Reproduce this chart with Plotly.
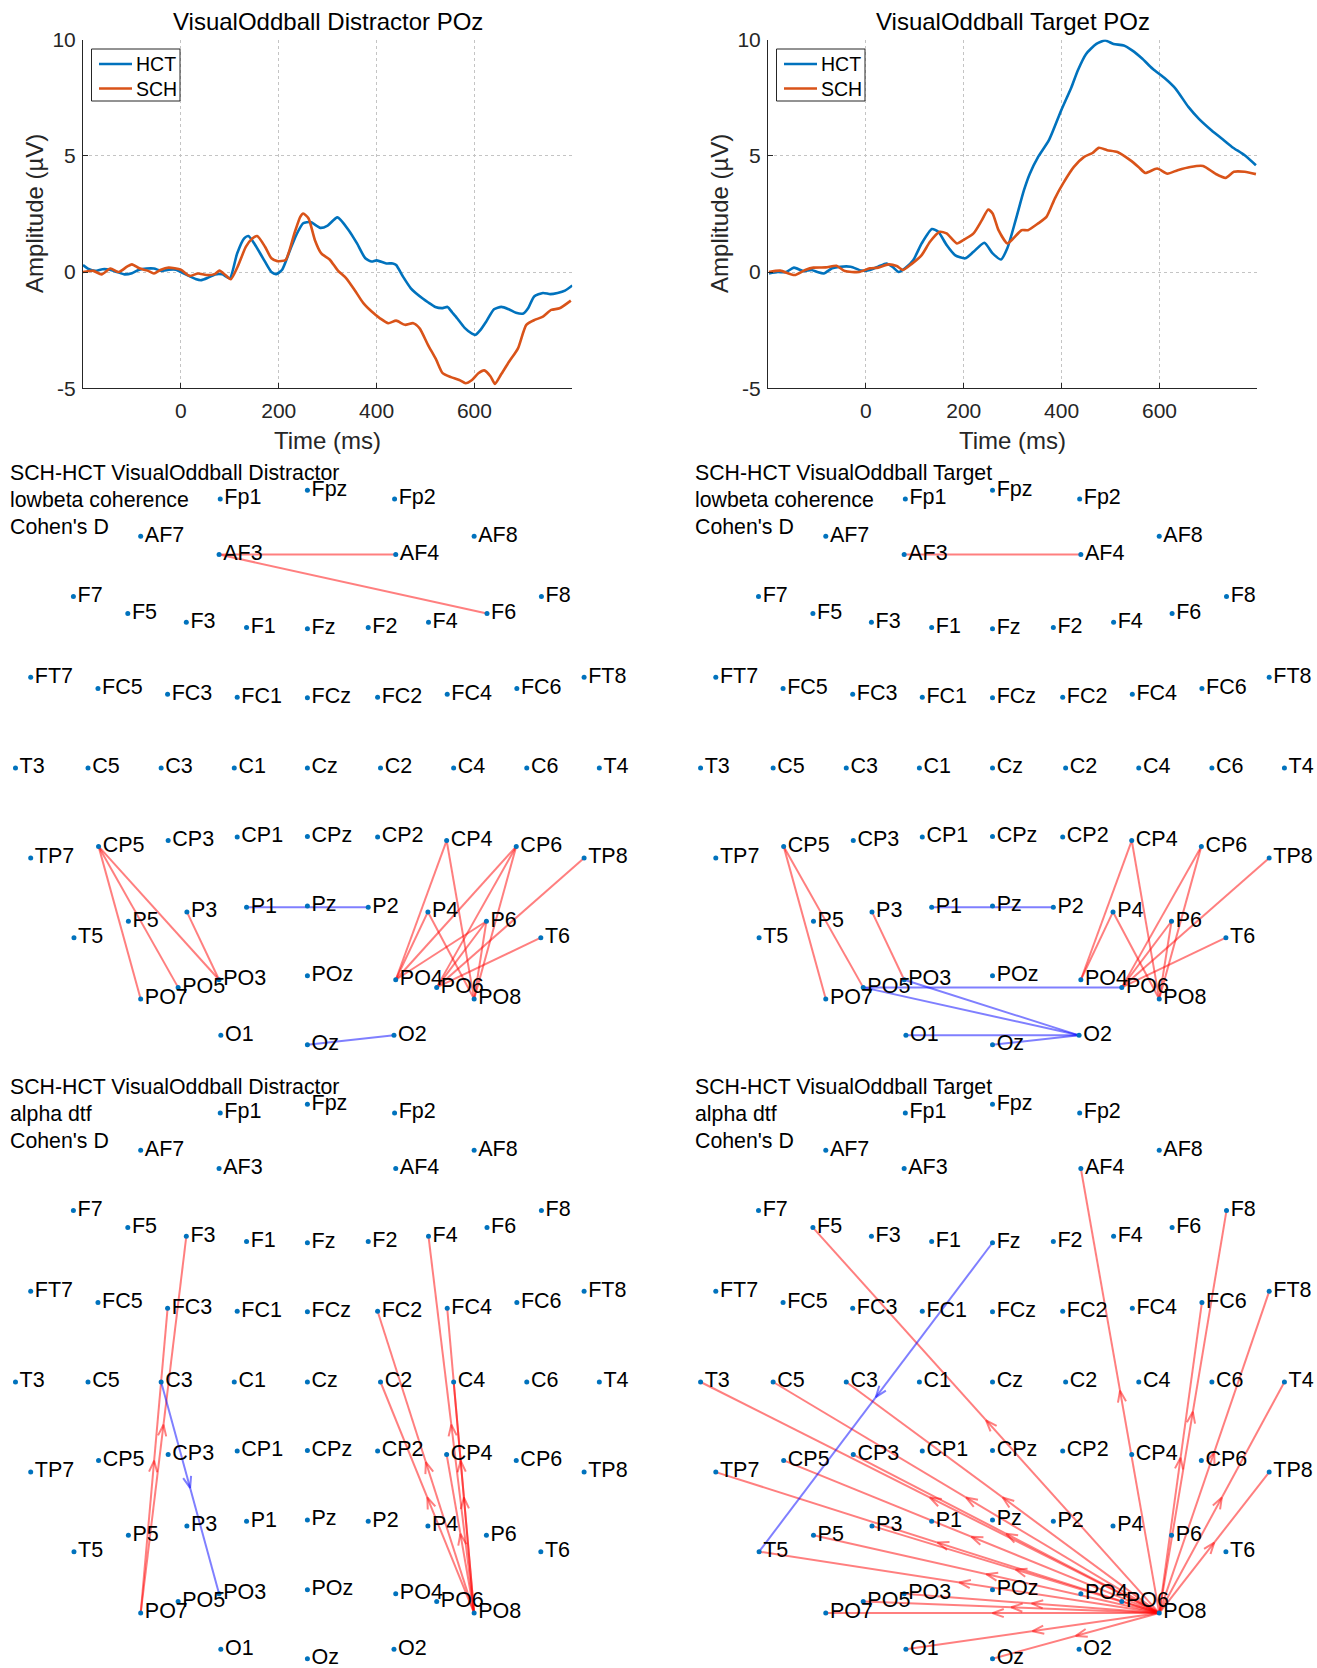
import math
import plotly.graph_objects as go

W, H = 1317, 1668
FONT = "Liberation Sans, Arial, Helvetica, sans-serif"
BLUE = "#0072BD"
ORANGE = "#D95319"
RED_LINE = "rgba(255,0,0,0.5)"
BLUE_LINE = "rgba(0,0,255,0.5)"

# ---------------- ERP data (Time in ms, amplitude in uV) ----------------
t_hct_dis = [-200, -190, -175, -160, -145, -130, -115, -100, -85, -70, -55, -40, -25, -10, 0, 15, 30, 42, 55,
             70, 85, 100, 115, 129, 138, 150, 168, 185, 195, 207, 223, 236, 250, 265, 285, 300, 320, 343, 360,
             377, 390, 400, 420, 433, 440, 454, 470, 480, 495, 505, 520, 535, 545, 555, 565, 580, 595, 602, 612,
             625, 640, 655, 670, 685, 700, 710, 722, 740, 755, 770, 785, 800]
v_hct_dis = [0.3, 0.15, 0.05, 0.12, 0.1, 0.0, -0.1, -0.05, 0.1, 0.15, 0.15, 0.05, 0.1, 0.1, 0.0, -0.15, -0.3,
             -0.35, -0.25, -0.1, -0.1, -0.27, 0.8, 1.44, 1.55, 1.23, 0.59, 0.0, -0.09, 0.1, 0.94, 1.6, 2.1, 2.15,
             1.9, 2.0, 2.35, 1.8, 1.23, 0.59, 0.45, 0.5, 0.37, 0.37, 0.3, -0.2, -0.7, -0.9, -1.15, -1.3, -1.5, -1.55,
             -1.5, -1.75, -2.0, -2.4, -2.65, -2.7, -2.5, -2.1, -1.6, -1.5, -1.6, -1.75, -1.78, -1.55, -1.05, -0.9,
             -0.95, -0.9, -0.8, -0.58]

t_sch_dis = [-200, -179, -162, -144, -127, -110, -100, -85, -68, -55, -42, -25, 0, 18, 35, 52, 69, 79, 91, 102,
             116, 133, 146, 156, 172, 185, 197, 214, 232, 244, 250, 261, 274, 287, 304, 321, 338, 355, 373, 390,
             407, 424, 440, 458, 475, 488, 505, 522, 535, 552, 569, 582, 595, 608, 620, 633, 642, 654, 671, 689,
             706, 723, 740, 757, 774, 797]
v_sch_dis = [0.0, 0.05, -0.1, 0.15, 0.0, 0.23, 0.33, 0.16, 0.06, -0.06, 0.09, 0.19, 0.1, -0.17, -0.06, -0.13,
             -0.09, 0.06, -0.13, -0.31, 0.23, 1.09, 1.44, 1.55, 1.09, 0.59, 0.47, 0.52, 1.66, 2.37, 2.52, 2.3, 1.37,
             0.8, 0.54, 0.06, -0.27, -0.77, -1.34, -1.7, -1.99, -2.2, -2.09, -2.27, -2.2, -2.42, -3.13, -3.78,
             -4.35, -4.52, -4.64, -4.78, -4.64, -4.35, -4.23, -4.49, -4.81, -4.42, -3.85, -3.28, -2.27, -2.06,
             -1.92, -1.63, -1.56, -1.23]

t_hct_tar = [-198, -180, -163, -147, -128, -111, -99, -86, -69, -52, -31, -9, 8, 25, 42, 54, 67, 80, 97, 114,
             135, 148, 165, 182, 203, 220, 242, 259, 276, 289, 306, 323, 335, 352, 374, 399, 420, 433, 450, 471,
             489, 506, 527, 544, 565, 586, 612, 633, 659, 680, 706, 727, 748, 774, 797]
v_hct_tar = [-0.06, 0.0, 0.0, 0.19, 0.04, 0.09, 0.0, -0.06, 0.16, 0.23, 0.23, 0.06, 0.09, 0.23, 0.37, 0.23, 0.0,
             0.16, 0.52, 1.23, 1.85, 1.73, 1.16, 0.73, 0.59, 0.87, 1.26, 0.8, 0.54, 1.02, 2.23, 3.52, 4.23, 4.95,
             5.67, 6.95, 7.95, 8.67, 9.38, 9.81, 9.96, 9.81, 9.74, 9.53, 9.17, 8.74, 8.31, 7.88, 7.1, 6.6, 6.1,
             5.74, 5.38, 5.02, 4.59]

t_sch_tar = [-198, -175, -146, -124, -107, -82, -60, -43, -14, 8, 25, 46, 63, 76, 93, 114, 131, 151, 165, 186,
             199, 220, 237, 250, 259, 271, 289, 301, 318, 331, 352, 369, 386, 403, 425, 446, 463, 476, 493, 514,
             540, 557, 571, 595, 616, 637, 663, 689, 714, 735, 752, 774, 797]
v_sch_tar = [0.0, 0.06, -0.13, 0.09, 0.19, 0.2, 0.27, 0.04, 0.0, 0.16, 0.19, 0.33, 0.26, 0.09, 0.34, 0.73, 1.3,
             1.73, 1.66, 1.23, 1.37, 1.66, 2.23, 2.69, 2.52, 1.8, 1.23, 1.44, 1.8, 1.8, 2.09, 2.37, 3.16, 3.81,
             4.52, 4.95, 5.12, 5.34, 5.24, 5.16, 4.81, 4.52, 4.26, 4.45, 4.23, 4.38, 4.52, 4.56, 4.23, 4.05,
             4.31, 4.31, 4.21]

x_ticks = [0, 200, 400, 600]
x_tick_text = ["0", "200", "400", "600"]
y_ticks = [-5, 0, 5, 10]
y_tick_text = ["-5", "0", "5", "10"]
group_names = ["HCT", "SCH"]

# ---------------- Electrode montage (2-D projection, head-radius units) ----------------
ELEC_NAMES = ["Fp1", "Fpz", "Fp2", "AF7", "AF3", "AF4", "AF8",
              "F7", "F5", "F3", "F1", "Fz", "F2", "F4", "F6", "F8",
              "FT7", "FC5", "FC3", "FC1", "FCz", "FC2", "FC4", "FC6", "FT8",
              "T3", "C5", "C3", "C1", "Cz", "C2", "C4", "C6", "T4",
              "TP7", "CP5", "CP3", "CP1", "CPz", "CP2", "CP4", "CP6", "TP8",
              "T5", "P5", "P3", "P1", "Pz", "P2", "P4", "P6", "T6",
              "PO7", "PO5", "PO3", "POz", "PO4", "PO6", "PO8",
              "O1", "Oz", "O2"]
ELEC_X = [-0.149, 0.0, 0.149, -0.285, -0.151, 0.151, 0.285,
          -0.400, -0.307, -0.207, -0.104, 0.0, 0.104, 0.207, 0.307, 0.400,
          -0.473, -0.358, -0.239, -0.120, 0.0, 0.120, 0.239, 0.358, 0.473,
          -0.499, -0.375, -0.250, -0.125, 0.0, 0.125, 0.250, 0.375, 0.499,
          -0.473, -0.357, -0.238, -0.120, 0.0, 0.120, 0.238, 0.357, 0.473,
          -0.399, -0.306, -0.206, -0.104, 0.0, 0.104, 0.206, 0.306, 0.399,
          -0.285, -0.221, -0.151, 0.0, 0.151, 0.221, 0.285,
          -0.148, 0.0, 0.148]
ELEC_Y = [0.460, 0.475, 0.460, 0.396, 0.365, 0.365, 0.396,
          0.293, 0.264, 0.249, 0.240, 0.238, 0.240, 0.249, 0.264, 0.293,
          0.155, 0.136, 0.126, 0.121, 0.120, 0.121, 0.126, 0.136, 0.155,
          0.0, 0.0, 0.0, 0.0, 0.0, 0.0, 0.0, 0.0, 0.0,
          -0.154, -0.134, -0.124, -0.118, -0.117, -0.118, -0.124, -0.134, -0.154,
          -0.290, -0.262, -0.246, -0.238, -0.236, -0.238, -0.246, -0.262, -0.290,
          -0.395, -0.375, -0.362, -0.355, -0.362, -0.375, -0.395,
          -0.457, -0.473, -0.457]

# ---------------- Significant connections ----------------
dis_coh_pos = [("AF3", "AF4"), ("AF3", "F6"), ("CP5", "PO7"), ("CP5", "PO5"), ("CP5", "PO3"), ("P3", "PO3"),
               ("CP4", "PO4"), ("CP4", "PO8"), ("CP6", "PO4"), ("CP6", "PO6"), ("CP6", "PO8"), ("TP8", "PO6"),
               ("P4", "PO4"), ("P4", "PO8"), ("P6", "PO4"), ("P6", "PO6"), ("P6", "PO8"), ("T6", "PO6")]
dis_coh_neg = [("P1", "P2"), ("Oz", "O2")]

tar_coh_pos = [("AF3", "AF4"), ("CP5", "PO7"), ("CP5", "PO5"), ("P3", "PO3"),
               ("CP4", "PO4"), ("CP4", "PO8"), ("CP6", "PO6"), ("CP6", "PO8"), ("TP8", "PO6"),
               ("P4", "PO4"), ("P4", "PO8"), ("P6", "PO6"), ("P6", "PO8"), ("T6", "PO6")]
tar_coh_neg = [("P1", "P2"), ("PO5", "PO6"), ("PO5", "O2"), ("PO3", "O2"), ("O1", "O2"), ("Oz", "O2")]

dis_dtf_pos = [("PO7", "F3"), ("PO7", "FC3"), ("PO8", "F4"), ("PO8", "FC2"), ("PO8", "FC4"),
               ("PO8", "C2"), ("PO8", "C4"), ("PO8", "CP4")]
dis_dtf_neg = [("C3", "PO3")]

tar_dtf_pos = [("PO8", t) for t in ["AF4", "F5", "F8", "FC6", "FT8", "T4", "TP8", "T3", "C5", "C3", "CP5",
                                     "CP3", "TP7", "P3", "P5", "T5", "PO7", "PO5", "PO3", "O1", "Oz"]]
tar_dtf_neg = [("Fz", "T5")]

panels = [
    dict(lines=["SCH-HCT VisualOddball Distractor", "lowbeta coherence", "Cohen's D"],
         pos=dis_coh_pos, neg=dis_coh_neg, directed=False, cx=307.4, cy=768.0),
    dict(lines=["SCH-HCT VisualOddball Target", "lowbeta coherence", "Cohen's D"],
         pos=tar_coh_pos, neg=tar_coh_neg, directed=False, cx=992.5, cy=768.0),
    dict(lines=["SCH-HCT VisualOddball Distractor", "alpha dtf", "Cohen's D"],
         pos=dis_dtf_pos, neg=dis_dtf_neg, directed=True, cx=307.4, cy=1382.0),
    dict(lines=["SCH-HCT VisualOddball Target", "alpha dtf", "Cohen's D"],
         pos=tar_dtf_pos, neg=tar_dtf_neg, directed=True, cx=992.5, cy=1382.0),
]


def fx(px):
    return min(1.0, max(0.0, px / W))


def fy(py):
    return min(1.0, max(0.0, 1 - py / H))


S = 585.0  # pixels per head-radius unit
HALF_W, HALF_H = 295.0, 280.0
ARROW_LEN = 12.0 / S
ARROW_ANG = math.radians(20)

fig = go.Figure()
pos_e = {n: (x, y) for n, x, y in zip(ELEC_NAMES, ELEC_X, ELEC_Y)}

# ---------------- Top ERP plots ----------------
erp = [
    dict(title="VisualOddball Distractor POz", series=[(t_hct_dis, v_hct_dis), (t_sch_dis, v_sch_dis)],
         x0=83.0, x1=572.3),
    dict(title="VisualOddball Target POz", series=[(t_hct_tar, v_hct_tar), (t_sch_tar, v_sch_tar)],
         x0=768.0, x1=1257.4),
]
colors = [BLUE, ORANGE]
y_top, y_bot = 39.5, 388.3
annotations = []
shapes = []
for i, p in enumerate(erp):
    ax = "" if i == 0 else str(i + 1)
    for name, (tt, vv), col in zip(group_names, p["series"], colors):
        fig.add_trace(go.Scatter(x=tt, y=vv, mode="lines", name=name,
                                 line=dict(color=col, width=2.6, shape="spline", smoothing=0.6),
                                 xaxis="x" + ax, yaxis="y" + ax, showlegend=False, hoverinfo="skip"))
    common = dict(showline=True, linecolor="#262626", linewidth=1, ticks="inside", ticklen=5,
                  tickcolor="#262626", showgrid=True, gridcolor="#c4c4c4", griddash="dot", gridwidth=1,
                  zeroline=False, tickfont=dict(family=FONT, size=21, color="#262626"), fixedrange=True,
                  automargin=False)
    fig.layout["xaxis" + ax] = dict(domain=[fx(p["x0"]), fx(p["x1"])], range=[-200, 800], tickvals=x_ticks,
                                     ticktext=x_tick_text, anchor="y" + ax, ticklabelstandoff=3, **common)
    fig.layout["yaxis" + ax] = dict(domain=[fy(y_bot), fy(y_top)], range=[-5, 10], tickvals=y_ticks,
                                     ticktext=y_tick_text, anchor="x" + ax, ticklabelstandoff=2, **common)
    cxp = (p["x0"] + p["x1"]) / 2
    annotations.append(dict(text=p["title"], x=fx(cxp), y=fy(21.0), xref="paper", yref="paper",
                            xanchor="center", yanchor="middle", showarrow=False,
                            font=dict(family=FONT, size=24, color="#000000")))
    annotations.append(dict(text="Time (ms)", x=fx(cxp), y=fy(440), xref="paper", yref="paper",
                            xanchor="center", yanchor="middle", showarrow=False,
                            font=dict(family=FONT, size=24, color="#262626")))
    annotations.append(dict(text="Amplitude (µV)", x=fx(p["x0"] - 48), y=fy((y_top + y_bot) / 2),
                            xref="paper", yref="paper", xanchor="center", yanchor="middle",
                            showarrow=False, textangle=-90,
                            font=dict(family=FONT, size=24, color="#262626")))
    # legend box (MATLAB style, compact)
    lx0, ly0 = p["x0"] + 8.5, 49.0
    shapes.append(dict(type="rect", xref="paper", yref="paper", x0=fx(lx0), x1=fx(lx0 + 88.5),
                       y0=fy(ly0 + 52), y1=fy(ly0), line=dict(color="#262626", width=1),
                       fillcolor="white", layer="above"))
    for j, (name, col) in enumerate(zip(group_names, colors)):
        yy = ly0 + 15 + 24.5 * j
        shapes.append(dict(type="line", xref="paper", yref="paper", x0=fx(lx0 + 7.5), x1=fx(lx0 + 40.5),
                           y0=fy(yy), y1=fy(yy), line=dict(color=col, width=2.6), layer="above"))
        annotations.append(dict(text=name, x=fx(lx0 + 42.0), y=fy(yy), xref="paper", yref="paper",
                                xanchor="left", yanchor="middle", showarrow=False,
                                font=dict(family=FONT, size=19.5, color="#000000")))

# ---------------- Topographic connectivity panels ----------------
for k, p in enumerate(panels):
    n = str(k + 3)
    xa, ya = "x" + n, "y" + n
    for pairs, col in [(p["pos"], RED_LINE), (p["neg"], BLUE_LINE)]:
        for a, b in pairs:
            (ax_, ay_), (bx_, by_) = pos_e[a], pos_e[b]
            xs, ys = [ax_, bx_], [ay_, by_]
            if p["directed"]:
                dx, dy = bx_ - ax_, by_ - ay_
                L = math.hypot(dx, dy)
                ux, uy = dx / L, dy / L
                mx, my = (ax_ + bx_) / 2, (ay_ + by_) / 2
                pts = []
                for s in (1, -1):
                    ca, sa = math.cos(s * ARROW_ANG), math.sin(s * ARROW_ANG)
                    rx, ry = ux * ca - uy * sa, ux * sa + uy * ca
                    pts.append((mx - ARROW_LEN * rx, my - ARROW_LEN * ry))
                xs += [None, pts[0][0], mx, pts[1][0]]
                ys += [None, pts[0][1], my, pts[1][1]]
            fig.add_trace(go.Scatter(x=xs, y=ys, mode="lines", line=dict(color=col, width=2),
                                     xaxis=xa, yaxis=ya, showlegend=False, hoverinfo="skip",
                                     cliponaxis=False))
    fig.add_trace(go.Scatter(x=ELEC_X, y=ELEC_Y, mode="markers+text", text=ELEC_NAMES,
                             textposition="middle right",
                             marker=dict(color=BLUE, size=5),
                             textfont=dict(family=FONT, size=21.5, color="#000000"),
                             xaxis=xa, yaxis=ya, showlegend=False, hoverinfo="skip", cliponaxis=False))
    cx, cy = p["cx"], p["cy"]
    xl = max(1.0, cx - HALF_W)
    xr = min(W - 1.0, cx + HALF_W)
    yt = max(1.0, cy - HALF_H)
    yb = min(H - 1.0, cy + HALF_H)
    fig.layout["xaxis" + n] = dict(domain=[fx(xl), fx(xr)],
                                   range=[(xl - cx) / S, (xr - cx) / S], visible=False, anchor=ya,
                                   fixedrange=True, automargin=False)
    fig.layout["yaxis" + n] = dict(domain=[fy(yb), fy(yt)],
                                   range=[(cy - yb) / S, (cy - yt) / S], visible=False, anchor=xa,
                                   fixedrange=True, automargin=False)
    left = 8.0 if cx < 600 else 693.0
    top = cy - 294.7
    for j, line in enumerate(p["lines"]):
        annotations.append(dict(text=line, x=fx(left), y=fy(top + 26.9 * j), xref="paper",
                                yref="paper", xanchor="left", yanchor="middle", showarrow=False,
                                font=dict(family=FONT, size=21.3, color="#000000")))

fig.update_layout(width=W, height=H, autosize=False,
                  margin=dict(l=0, r=0, t=0, b=0, pad=0, autoexpand=False),
                  plot_bgcolor="white", paper_bgcolor="white", annotations=annotations, shapes=shapes,
                  font=dict(family=FONT), showlegend=False)
fig.write_html("out.html", config={"displayModeBar": False, "staticPlot": False},
               post_script="document.documentElement.style.margin='0';"
                           "document.body.style.margin='0';document.body.style.overflow='hidden';")
